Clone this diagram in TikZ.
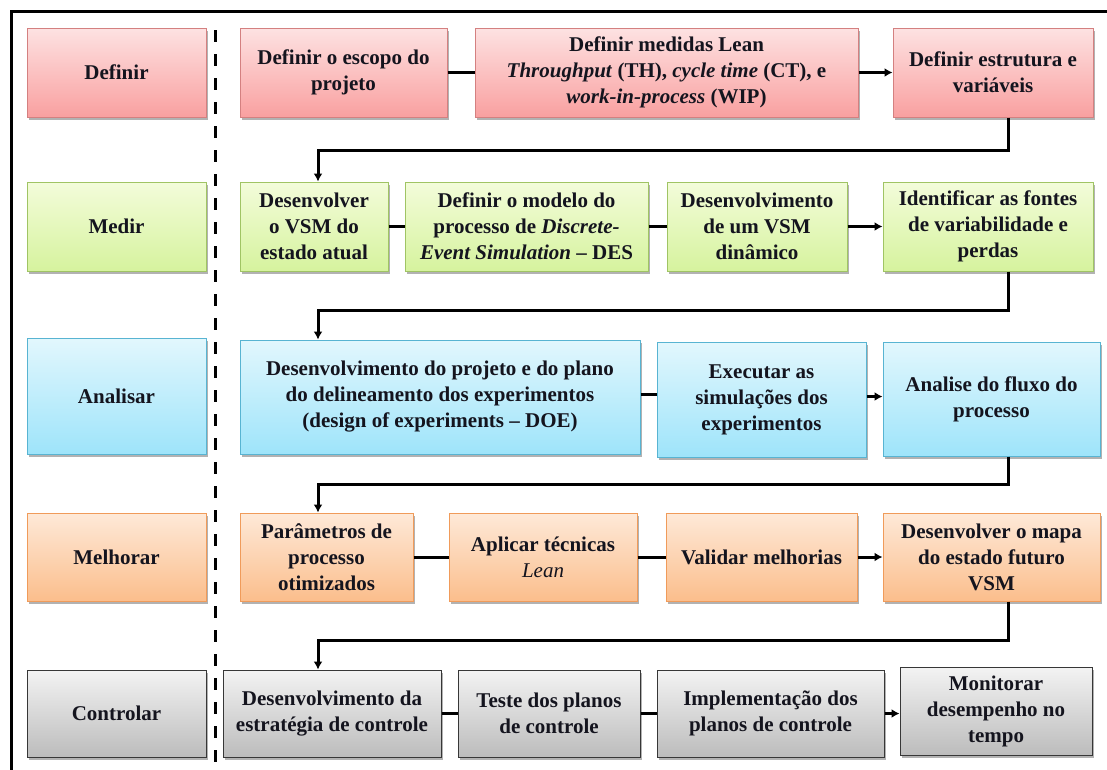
\documentclass[tikz,border=0pt]{standalone}
\usepackage{fontspec}
\setmainfont{Liberation Serif}
\usetikzlibrary{arrows.meta,shadows}
\definecolor{redtop}{RGB}{253,226,226}
\definecolor{redbot}{RGB}{249,160,160}
\definecolor{redline}{RGB}{212,128,128}
\definecolor{greentop}{RGB}{243,252,218}
\definecolor{greenbot}{RGB}{214,243,158}
\definecolor{greenline}{RGB}{160,196,100}
\definecolor{bluetop}{RGB}{226,247,253}
\definecolor{bluebot}{RGB}{158,228,250}
\definecolor{blueline}{RGB}{88,180,210}
\definecolor{orangetop}{RGB}{254,233,216}
\definecolor{orangebot}{RGB}{251,190,140}
\definecolor{orangeline}{RGB}{240,155,90}
\definecolor{graytop}{RGB}{243,243,243}
\definecolor{graybot}{RGB}{188,188,188}
\definecolor{grayline}{RGB}{55,55,55}
\definecolor{txt}{RGB}{20,20,30}
\tikzset{
  box/.style={line width=1pt, inner sep=2pt, align=center, text=txt,
    font=\bfseries\fontsize{21}{26}\selectfont,
    drop shadow={shadow xshift=2pt, shadow yshift=-2.5pt, opacity=0.3, fill=black}},
  redbox/.style={box, draw=redline, top color=redtop, bottom color=redbot},
  greenbox/.style={box, draw=greenline, top color=greentop, bottom color=greenbot},
  bluebox/.style={box, draw=blueline, top color=bluetop, bottom color=bluebot},
  orangebox/.style={box, draw=orangeline, top color=orangetop, bottom color=orangebot},
  graybox/.style={box, draw=grayline, top color=graytop, bottom color=graybot},
  wh/.style n args={2}{minimum width=#1, minimum height=#2},
  wire/.style={line width=3pt, black},
  arr/.style={wire, -{Latex[length=8pt,width=9pt]}},
}
\begin{document}
\begin{tikzpicture}[x=1pt,y=-1pt]
\useasboundingbox (0,0) rectangle (1107,769);
\fill[white] (0,0) rectangle (1107,769);
% frame
\draw[line width=3pt] (11,790) -- (11,11) -- (1130,11);
% dashed separator
\draw[line width=3pt, dash pattern=on 12pt off 12pt] (215,30) -- (215,775);

% phases
\node[redbox, wh={179}{89}] (p1) at (116.5,72.5) {Definir};
\node[greenbox, wh={179}{89}] (p2) at (116.5,226.5) {Medir};
\node[bluebox, wh={179}{116}] (p3) at (116.5,396) {Analisar};
\node[orangebox, wh={179}{88}] (p4) at (116.5,557) {Melhorar};
\node[graybox, wh={179}{87}] (p5) at (116.5,713.5) {Controlar};

% row 1
\node[redbox, wh={207}{89}] (d1) at (343.5,72.5) {Definir o escopo do\\projeto};
\node[redbox, wh={383}{89}] (d2) at (666.5,72.5) {Definir medidas Lean\\\textit{Throughput} (TH), \textit{cycle time} (CT), e\\\textit{work-in-process} (WIP)};
\node[redbox, wh={200}{89}] (d3) at (993,72.5) {Definir estrutura e\\variáveis};

% row 2
\node[greenbox, wh={148}{89}] (m1) at (314,226.5) {Desenvolver\\o VSM do\\estado atual};
\node[greenbox, wh={243}{89}] (m2) at (526.5,226.5) {Definir o modelo do\\processo de \textit{Discrete-}\\\textit{Event Simulation} – DES};
\node[greenbox, wh={180}{89}] (m3) at (757,226.5) {Desenvolvimento\\de um VSM\\dinâmico};
\node[greenbox, wh={210}{89}] (m4) at (988,226.5) {Identificar as fontes\\de variabilidade e\\perdas};

% row 3
\node[bluebox, wh={400}{114}] (a1) at (440,397) {Desenvolvimento do projeto e do plano\\do delineamento dos experimentos\\(design of experiments – DOE)};
\node[bluebox, wh={209}{115}] (a2) at (761.5,399.5) {Executar as\\simulações dos\\experimentos};
\node[bluebox, wh={217}{114}] (a3) at (991.5,399) {Analise do fluxo do\\processo};

% row 4
\node[orangebox, wh={173}{88}] (e1) at (326.5,557) {Parâmetros de\\processo\\otimizados};
\node[orangebox, wh={188}{88}] (e2) at (543,557) {Aplicar técnicas\\{\mdseries\itshape Lean}};
\node[orangebox, wh={191}{88}] (e3) at (761.5,557) {Validar melhorias};
\node[orangebox, wh={217}{88}] (e4) at (991.5,557) {Desenvolver o mapa\\do estado futuro\\VSM};

% row 5
\node[graybox, wh={218}{87}] (c1) at (332,713.5) {Desenvolvimento da\\estratégia de controle};
\node[graybox, wh={182}{87}] (c2) at (549,713.5) {Teste dos planos\\de controle};
\node[graybox, wh={227}{87}] (c3) at (770.5,713.5) {Implementação dos\\planos de controle};
\node[graybox, wh={192}{88}] (c4) at (996,711) {Monitorar\\desempenho no\\tempo};

% in-row connectors
\draw[wire] (d1.east) -- (d1.east -| d2.west);
\draw[arr] (d2.east) -- (d2.east -| d3.west);
\draw[wire] (m1.east) -- (m1.east -| m2.west);
\draw[wire] (m2.east) -- (m2.east -| m3.west);
\draw[arr] (m3.east) -- (m3.east -| m4.west);
\draw[wire] ([yshift=3pt]a1.east) -- ([yshift=3pt]a1.east -| a2.west);
\draw[arr] ([yshift=3pt]a2.east) -- ([yshift=3pt]a2.east -| a3.west);
\draw[wire] (e1.east) -- (e1.east -| e2.west);
\draw[wire] (e2.east) -- (e2.east -| e3.west);
\draw[arr] (e3.east) -- (e3.east -| e4.west);
\draw[wire] (c1.east) -- (c1.east -| c2.west);
\draw[wire] (c2.east) -- (c2.east -| c3.west);
\draw[arr] (c3.east) -- (c3.east -| c4.west);

% return connectors
\coordinate (colR) at (1008,0);
\coordinate (t1) at (318,150);
\coordinate (t2) at (318,310);
\coordinate (t3) at (318,484);
\coordinate (t4) at (318,640);
\draw[arr] (d3.south -| colR) |- (t1) -- (t1 |- m1.north);
\draw[arr] (m4.south -| colR) |- (t2) -- (t2 |- a1.north);
\draw[arr] (a3.south -| colR) |- (t3) -- (t3 |- e1.north);
\draw[arr] (e4.south -| colR) |- (t4) -- (t4 |- c1.north);
\end{tikzpicture}
\end{document}
